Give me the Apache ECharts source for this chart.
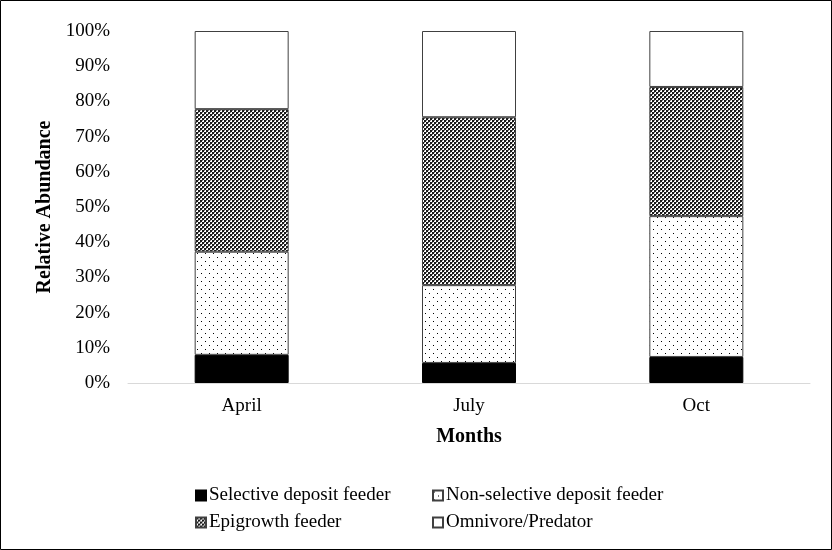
<!DOCTYPE html>
<html>
<head>
<meta charset="utf-8">
<style>
  html, body { margin: 0; padding: 0; background: #fff; }
  #chart { width: 832px; height: 550px; }
</style>
<script src="https://cdn.jsdelivr.net/npm/echarts@6/dist/echarts.min.js"></script>
</head>
<body>
<div id="chart"></div>
<script>
// Feeding-group composition (percent of individuals) per sampling month
const months = ['April', 'July', 'Oct'];
const selectiveDeposit = [8.0, 5.7, 7.4];
const nonSelectiveDeposit = [29.3, 22.1, 40.0];
const epigrowth = [40.5, 47.7, 36.7];
const omnivorePredator = [22.2, 24.5, 15.9];
const seriesNames = ['Selective deposit feeder', 'Non-selective deposit feeder', 'Epigrowth feeder', 'Omnivore/Predator'];
const yTicks = [0, 10, 20, 30, 40, 50, 60, 70, 80, 90, 100];

const FONT = '"Liberation Serif", "Times New Roman", serif';

// Fill patterns
function makeTile(w, h, draw) {
  const c = document.createElement('canvas');
  c.width = w; c.height = h;
  const ctx = c.getContext('2d');
  draw(ctx);
  return c;
}
const dotTile = makeTile(8, 8, ctx => {
  ctx.fillStyle = '#fff';
  ctx.fillRect(0, 0, 8, 8);
  ctx.fillStyle = '#000';
  ctx.fillRect(1, 1, 1, 1);
  ctx.fillRect(5, 5, 1, 1);
});
const checkTile = makeTile(4, 4, ctx => {
  ctx.fillStyle = '#fff';
  ctx.fillRect(0, 0, 4, 4);
  ctx.fillStyle = '#1a1a1a';
  ctx.fillRect(0, 0, 2, 2);
  ctx.fillRect(2, 2, 2, 2);
  ctx.fillStyle = '#7a7a7a';
  ctx.fillRect(2, 0, 1, 1);
  ctx.fillRect(0, 2, 1, 1);
});

const fills = [
  '#000000',
  { image: dotTile, repeat: 'repeat' },
  { image: checkTile, repeat: 'repeat' },
  '#ffffff'
];
const values = [selectiveDeposit, nonSelectiveDeposit, epigrowth, omnivorePredator];

const chart = echarts.init(document.getElementById('chart'), null, { renderer: 'canvas' });

const legendSpots = [
  { left: 195, top: 486 },
  { left: 432, top: 486 },
  { left: 195, top: 513 },
  { left: 432, top: 513 }
];

chart.setOption({
  animation: false,
  backgroundColor: '#fff',
  textStyle: { fontFamily: FONT },
  grid: { left: 128, right: 22, top: 31, bottom: 167 },
  legend: seriesNames.map((n, i) => ({
    data: [n],
    icon: 'rect',
    left: legendSpots[i].left,
    top: legendSpots[i].top,
    itemWidth: 10,
    itemHeight: 10,
    itemGap: 0,
    padding: 0,
    selectedMode: false,
    textStyle: { fontFamily: FONT, fontSize: 19, color: '#000', padding: [0, 0, 0, -2] }
  })),
  xAxis: {
    type: 'category',
    data: months,
    name: 'Months',
    nameLocation: 'middle',
    nameGap: 44,
    nameTextStyle: { fontFamily: FONT, fontSize: 20, fontWeight: 'bold', color: '#000' },
    axisLine: { lineStyle: { color: '#d9d9d9', width: 1 } },
    axisTick: { show: false },
    axisLabel: { fontFamily: FONT, fontSize: 19, color: '#000', margin: 14 }
  },
  yAxis: {
    type: 'value',
    min: yTicks[0],
    max: yTicks[yTicks.length - 1],
    interval: 10,
    name: 'Relative Abundance',
    nameLocation: 'middle',
    nameGap: 68,
    nameRotate: 90,
    nameTextStyle: { fontFamily: FONT, fontSize: 20, fontWeight: 'bold', color: '#000' },
    axisLine: { show: false },
    axisTick: { show: false },
    splitLine: { show: false },
    axisLabel: { fontFamily: FONT, fontSize: 19, color: '#000', margin: 18, formatter: v => v + '%' }
  },
  series: seriesNames.map((n, i) => ({
    name: n,
    type: 'bar',
    stack: 'total',
    barWidth: 94,
    data: values[i],
    itemStyle: {
      color: fills[i],
      borderColor: i === 0 ? '#000' : '#404040',
      borderWidth: 1
    }
  })),
  graphic: [{
    type: 'rect',
    shape: { x: 0.5, y: 0.5, width: 831, height: 549 },
    style: { fill: 'none', stroke: '#000', lineWidth: 1 },
    silent: true,
    z: 100
  }]
});
</script>
</body>
</html>
